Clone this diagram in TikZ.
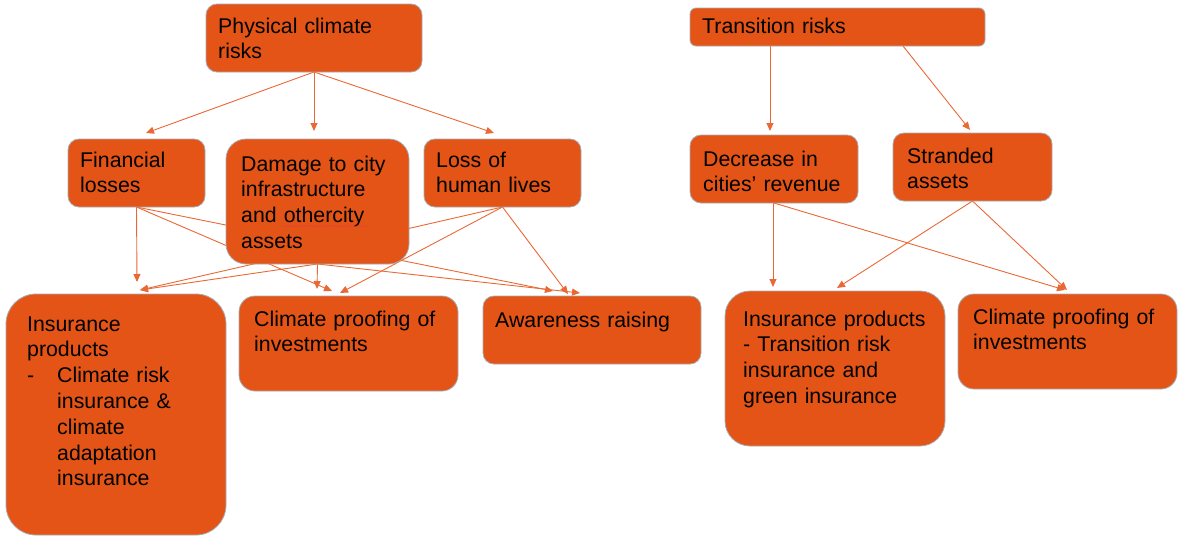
\documentclass[tikz,border=0pt]{standalone}
\usepackage{fontspec}
\setmainfont{Liberation Sans}
\usetikzlibrary{arrows.meta,decorations.pathmorphing}
\pgfdeclarelayer{bg}
\pgfsetlayers{bg,main}
\definecolor{boxfill}{RGB}{228,84,22}
\definecolor{boxline}{RGB}{165,172,180}
\definecolor{arr}{RGB}{234,104,52}
\definecolor{squig}{RGB}{235,60,60}
\begin{document}
\begin{tikzpicture}[x=1pt,y=-1pt,
  box/.style={draw=boxline, line width=0.8pt, fill=boxfill, outer sep=0pt, inner sep=0pt, anchor=north west},
  txt/.style={inner sep=0pt, anchor=base west, align=left, text width=#1, font=\fontsize{21.3}{25.8}\selectfont},
  conn/.style={draw=arr, line width=0.9pt, -{Triangle[length=8pt,width=7pt]}}]
\useasboundingbox (0,0) rectangle (1178,538);
% boxes
\node[box, minimum width=216pt, minimum height=68pt, rounded corners=11pt] (phys) at (206,4) {};
\node[box, minimum width=295pt, minimum height=38pt, rounded corners=6pt] (trans) at (690,8) {};
\node[box, minimum width=137pt, minimum height=68pt, rounded corners=11pt] (fin) at (68,139) {};
\node[box, minimum width=183pt, minimum height=125pt, rounded corners=20pt] (dmg) at (226,139) {};
\node[box, minimum width=157pt, minimum height=68pt, rounded corners=11pt] (loss) at (424,139) {};
\node[box, minimum width=168pt, minimum height=68pt, rounded corners=11pt] (dec) at (690,135) {};
\node[box, minimum width=159pt, minimum height=68pt, rounded corners=11pt] (str) at (893,133) {};
\node[box, minimum width=220pt, minimum height=241pt, rounded corners=30pt] (insL) at (6,294) {};
\node[box, minimum width=219pt, minimum height=95pt, rounded corners=16pt] (cpL) at (239,296) {};
\node[box, minimum width=218pt, minimum height=68pt, rounded corners=11pt] (aw) at (483,296) {};
\node[box, minimum width=220pt, minimum height=155pt, rounded corners=25pt] (insR) at (725,291) {};
\node[box, minimum width=219pt, minimum height=95pt, rounded corners=16pt] (cpR) at (958,294) {};
% texts
\node[txt=200pt] (physT) at (218,33) {Physical climate\\risks};
\node[txt=280pt] (transT) at (702,34) {Transition risks};
\node[txt=130pt] (finT) at (80,167) {Financial\\losses};
\node[txt=170pt] (dmgT) at (241,171) {Damage to city\\infrastructure\\and othercity\\assets};
\node[txt=150pt] (lossT) at (436,167) {Loss of\\human lives};
\node[txt=160pt] (decT) at (703,166) {Decrease in\\cities’ revenue};
\node[txt=150pt] (strT) at (907,163) {Stranded\\assets};
\node[txt=200pt] (insLT) at (27,331) {Insurance\\products\\\makebox[30pt][l]{-}Climate risk\\\hspace*{30pt}insurance \&\\\hspace*{30pt}climate\\\hspace*{30pt}adaptation\\\hspace*{30pt}insurance};
\node[txt=210pt] (cpLT) at (254,326) {Climate proofing of\\investments};
\node[txt=210pt] (awT) at (495,327) {Awareness raising};
\node[txt=210pt] (insRT) at (743,326) {Insurance products\\- Transition risk\\insurance and\\green insurance};
\node[txt=210pt] (cpRT) at (973,324) {Climate proofing of\\investments};
% spell-check squiggle
\draw[squig, line width=0.35pt, decorate, decoration={snake, amplitude=0.6pt, segment length=2.4pt}] ([shift={(41,55)}]dmgT.base west) coordinate (sq1) -- ([shift={(126,55)}]dmgT.base west) coordinate (sq2);
% connectors
\begin{pgfonlayer}{bg}
\draw[conn] (phys.south) -- ([shift={(9.5,-6)}]fin.north);
\draw[conn] (phys.south) -- ([shift={(-3.5,-8)}]dmg.north);
\draw[conn] (phys.south) -- ([shift={(-8.5,-6)}]loss.north);
\draw[conn] ([shift={(-67.5,0)}]trans.south) -- ([shift={(-4,-4)}]dec.north);
\draw[conn] ([shift={(65.5,0)}]trans.south) -- ([shift={(-2.5,-3)}]str.north);
\draw[conn] (fin.south) -- ([shift={(21,-12)}]insL.north);
\draw[conn] (fin.south) -- ([shift={(-16.5,-5)}]cpL.north);
\draw[conn] (fin.south) -- ([shift={(-39,-5)}]aw.north);
\draw[conn] (dmg.south) -- ([shift={(24,-4)}]insL.north);
\draw[conn] (dmg.south) -- ([shift={(-31.5,-7)}]cpL.north);
\draw[conn] (dmg.south) -- ([shift={(-12,-3)}]aw.north);
\draw[conn] (loss.south) -- ([shift={(24,-4)}]insL.north);
\draw[conn] (loss.south) -- ([shift={(-8.5,-3)}]cpL.north);
\draw[conn] (loss.south) -- ([shift={(-24,-2)}]aw.north);
\draw[conn] ([shift={(-1,0)}]dec.south) -- ([shift={(-62,-4)}]insR.north);
\draw[conn] (dec.south) -- ([shift={(-2.5,-4)}]cpR.north);
\draw[conn] (str.south) -- ([shift={(2,-3)}]insR.north);
\draw[conn] (str.south) -- ([shift={(-0.5,-4)}]cpR.north);
\end{pgfonlayer}
\end{tikzpicture}
\end{document}
